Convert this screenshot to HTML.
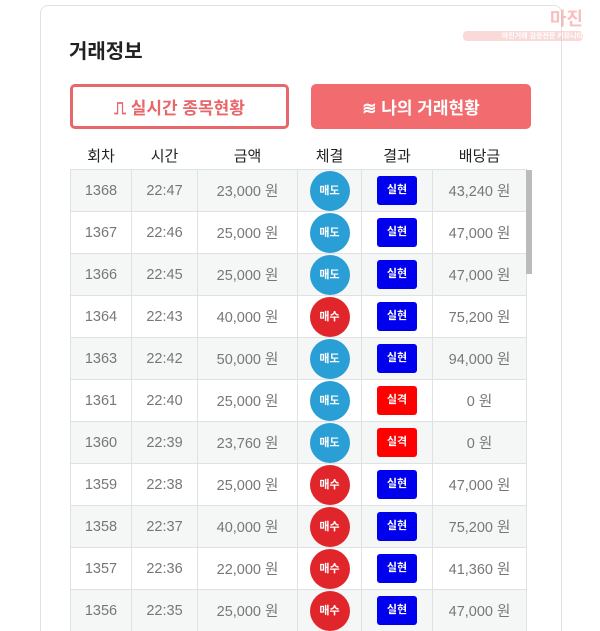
<!DOCTYPE html><html style="height:631px;overflow:hidden"><head><meta charset="utf-8"><style>
body{margin:0;width:600px;height:631px;background:#fff;overflow:hidden;font-family:"Liberation Sans","Noto Sans CJK KR",sans-serif;position:relative}
.card{position:absolute;left:40px;top:5px;width:520px;height:626px;border:1px solid #e2e2e2;border-bottom:none;border-radius:8px 8px 0 0}
.title{position:absolute;left:69px;top:35px;font-size:20px;font-weight:bold;color:#222}
.btn{position:absolute;top:84px;height:45px;box-sizing:border-box;border-radius:5px;font-size:17px;font-weight:bold;display:flex;align-items:center;justify-content:center}
.b1{left:70px;width:219px;border:3px solid #e8676b;color:#e8676b;background:#fff}
.b2{left:311px;width:220px;background:#f26b6e;color:#fff}
table{position:absolute;left:70px;top:141px;border-collapse:collapse;width:456px;table-layout:fixed}
th{height:28px;font-size:15px;font-weight:normal;color:#222;padding:0}
td{height:41px;border:1px solid #dee2e6;text-align:center;font-size:14.5px;color:#777;padding:0}
tr:nth-child(odd) td{background:#f5f7f7}
.c{display:inline-block;width:40px;height:40px;border-radius:50%;color:#fff;font-size:11px;font-weight:bold;line-height:40px;vertical-align:middle}
.s{background:#2a9fd6}.m{background:#e0262a}
.g{display:inline-block;width:40px;height:29px;border-radius:3px;color:#fff;font-size:11px;font-weight:bold;line-height:29px;vertical-align:middle}
.ok{background:#0000ee}.no{background:#ff0000}
.sb{position:absolute;left:526px;top:170px;width:6px;height:104px;background:#bbb}
.logo{position:absolute;left:463px;top:5px;width:120px;height:30px;color:#f08080;opacity:.5;font-size:18px;font-weight:bold;text-align:right}
</style></head><body>
<div class="card"></div>
<div class="logo">마진<span style="font-size:7px;display:block;background:#f6b5b5;color:#fff;border-radius:4px">마진거래 검증전문 커뮤니티</span></div>
<div class="title">거래정보</div>
<div class="btn b1">⎍ 실시간 종목현황</div>
<div class="btn b2">≋ 나의 거래현황</div>
<table>
<colgroup><col style="width:61px"><col style="width:66px"><col style="width:100px"><col style="width:64px"><col style="width:71px"><col style="width:94px"></colgroup>
<thead><tr><th>회차</th><th>시간</th><th>금액</th><th>체결</th><th>결과</th><th>배당금</th></tr></thead>
<tbody>
<tr><td>1368</td><td>22:47</td><td>23,000 원</td><td><span class="c s">매도</span></td><td><span class="g ok">실현</span></td><td>43,240 원</td></tr>
<tr><td>1367</td><td>22:46</td><td>25,000 원</td><td><span class="c s">매도</span></td><td><span class="g ok">실현</span></td><td>47,000 원</td></tr>
<tr><td>1366</td><td>22:45</td><td>25,000 원</td><td><span class="c s">매도</span></td><td><span class="g ok">실현</span></td><td>47,000 원</td></tr>
<tr><td>1364</td><td>22:43</td><td>40,000 원</td><td><span class="c m">매수</span></td><td><span class="g ok">실현</span></td><td>75,200 원</td></tr>
<tr><td>1363</td><td>22:42</td><td>50,000 원</td><td><span class="c s">매도</span></td><td><span class="g ok">실현</span></td><td>94,000 원</td></tr>
<tr><td>1361</td><td>22:40</td><td>25,000 원</td><td><span class="c s">매도</span></td><td><span class="g no">실격</span></td><td>0 원</td></tr>
<tr><td>1360</td><td>22:39</td><td>23,760 원</td><td><span class="c s">매도</span></td><td><span class="g no">실격</span></td><td>0 원</td></tr>
<tr><td>1359</td><td>22:38</td><td>25,000 원</td><td><span class="c m">매수</span></td><td><span class="g ok">실현</span></td><td>47,000 원</td></tr>
<tr><td>1358</td><td>22:37</td><td>40,000 원</td><td><span class="c m">매수</span></td><td><span class="g ok">실현</span></td><td>75,200 원</td></tr>
<tr><td>1357</td><td>22:36</td><td>22,000 원</td><td><span class="c m">매수</span></td><td><span class="g ok">실현</span></td><td>41,360 원</td></tr>
<tr><td>1356</td><td>22:35</td><td>25,000 원</td><td><span class="c m">매수</span></td><td><span class="g ok">실현</span></td><td>47,000 원</td></tr>
</tbody></table>
<div class="sb"></div>
</body></html>
